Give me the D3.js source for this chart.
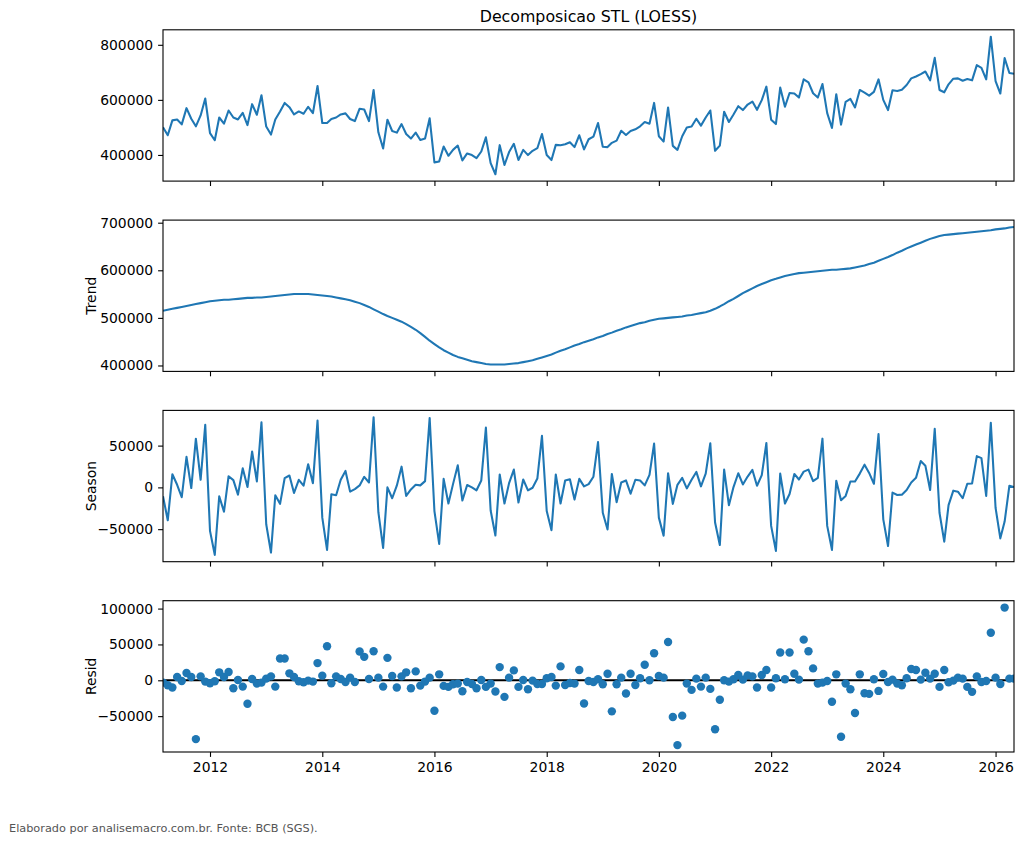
<!DOCTYPE html>
<html>
<head>
<meta charset="utf-8">
<script src="https://cdn.jsdelivr.net/npm/d3@7"></script>
<style>
    body { margin: 0; background: #ffffff; }
    svg { font-family: "DejaVu Sans", sans-serif; }
</style>
</head>
<body>
<svg id="chart" width="1024" height="843"></svg>
<script>
// monthly series, 2011-03 .. 2026-05, one row per calendar year
const observed = [
    500300, 471500, 525500, 529000, 511000, 570000, 531500, 504000, 543500, 605000,
    479000, 453500, 536000, 513500, 561500, 536000, 529000, 553000, 508500, 584500, 546000, 617000,
    503000, 474000, 529000, 558000, 589000, 573500, 547000, 558000, 549500, 575000, 552000, 650500,
    516000, 516000, 530500, 536000, 547000, 551000, 530500, 523000, 568000, 565000, 523000, 636000,
    482300, 423500, 528000, 487000, 481000, 512000, 476000, 459500, 481000, 454500, 459500, 533000,
    373000, 376500, 430500, 397000, 418500, 434000, 380000, 405500, 399500, 388500, 412500, 464000,
    370500, 330000, 435500, 363500, 410500, 440500, 381500, 418500, 399500, 415000, 424500, 476000,
    399500, 381500, 436500, 435500, 439000, 446000, 428500, 471500, 420000, 457000, 466500, 516000,
    429500, 428500, 444000, 452000, 488000, 472500, 487000, 493000, 504000, 519500, 513500, 589000,
    468000, 448500, 572500, 433000, 418500, 468000, 500000, 503000, 531500, 506500, 536000, 561500,
    415000, 434000, 557000, 519500, 547000, 577000, 563000, 583000, 594000, 564000, 599000, 648000,
    528000, 512000, 644500, 575000, 625000, 623000, 608500, 674500, 663500, 624000, 608500, 657500,
    552000, 498000, 620500, 510000, 593000, 603500, 572500, 636000, 626500, 615500, 629000, 674500,
    600000, 563000, 635000, 632500, 637000, 654000, 678000, 685000, 693500, 703000, 671000, 752500,
    636000, 627500, 656500, 677000, 678000, 669500, 675500, 671000, 726000, 716500, 674500, 829500,
    668500, 623000, 751500, 697500, 695000
]

const trend = [
    515000, 517000, 519000, 521000, 523000, 525000, 527000, 529000, 531000, 533000,
    535000, 536000, 537000, 538000, 538000, 539000, 540000, 541000, 542000, 542000, 543000, 543000,
    544000, 545000, 546000, 547000, 548000, 549000, 550000, 550000, 550000, 550000, 549000, 548000,
    547000, 546000, 545000, 543000, 541000, 539000, 537000, 534000, 531000, 527000, 523000, 518000,
    513000, 508000, 504000, 500000, 496000, 492000, 487000, 481000, 475000, 468000, 460000, 452000,
    445000, 438000, 432000, 427000, 422000, 418000, 415000, 412000, 409000, 407000, 405000, 403000,
    402000, 402000, 402000, 402000, 403000, 404000, 405000, 407000, 409000, 411000, 414000, 417000,
    420000, 423000, 427000, 431000, 434000, 438000, 442000, 445000, 449000, 452000, 455000, 459000,
    462000, 466000, 469000, 473000, 476000, 480000, 483000, 486000, 489000, 491000, 494000, 496000,
    498000, 499000, 500000, 501000, 502000, 503000, 505000, 506000, 508000, 510000, 512000, 515000,
    519000, 524000, 529000, 535000, 540000, 546000, 552000, 557000, 562000, 567000, 571000, 575000,
    579000, 582000, 585000, 588000, 590000, 592000, 594000, 595000, 596000, 597000, 598000, 599000,
    600000, 601000, 601000, 602000, 603000, 604000, 606000, 608000, 610000, 613000, 616000, 620000,
    624000, 628000, 632000, 637000, 641000, 646000, 650000, 654000, 658000, 662000, 666000, 669000,
    672000, 674000, 675000, 676000, 677000, 678000, 679000, 680000, 681000, 682000, 683000, 684000,
    686000, 687000, 688000, 690000, 691000
]

const season = [
    -10600, -39400, 15700, 3100, -11800, 36600, -800, 58300, 9100, 74800,
    -52000, -80700, -10600, -29100, 13400, 8700, -8700, 22800, 400, 42900, 7100, 78000,
    -44100, -78000, -9400, -19700, 11000, 14200, -6700, 9100, 2000, 27600, 5100, 79900,
    -36200, -74800, -8300, -9400, 9100, 19700, -5100, -2000, 2400, 12600, 5900, 83900,
    -29700, -72400, 0, -13000, 2000, 24800, -10200, -2400, 3100, 2400, 7500, 83100,
    -28300, -67700, 10200, -19300, 3900, 26400, -15700, 2800, 0, -3500, 8300, 71700,
    -27600, -57500, 15400, -19300, 5100, 21300, -18100, 9400, -3500, -400, 10600, 61800,
    -28300, -51200, 15400, -19300, 8300, 9800, -14600, 10200, 1200, 3900, 12800, 54300,
    -30300, -50400, 16100, -17700, 5900, 8300, -7500, 9100, 8300, 2400, 15000, 52400,
    -36200, -57900, 16900, -19700, 3100, 11400, -1200, 9100, 18500, 1200, 16500, 52800,
    -42100, -68900, 21300, -21300, 400, 16900, 3500, 13000, 20900, 2000, 14600, 53100,
    -46100, -76000, 16500, -19300, -7900, 16100, 9400, 18900, 21300, 7500, 11400, 58300,
    -46100, -74800, 7900, -15400, -10200, 7100, 7100, 16500, 27200, 17300, 4300, 63800,
    -38200, -70100, -6300, -9100, -8700, -3100, 5900, 11400, 31500, 26000, -3100, 70100,
    -30300, -65000, -21300, -3900, -5100, -13000, 4300, 4700, 37400, 35000, -10200, 77200,
    -24400, -61000, -40900, 2000, 400
]

const resid = [
    -3200, -6900, -10100, 4600, -900, 10100, 4600, -82000, 5500, -1800,
    -4100, -1400, 11100, 4600, 11500, -11100, 500, -8800, -32700, 1800, -4600, -3200,
    2300, 5500, -8800, 30400, 30400, 9700, 4600, -1400, -2800, -500, -1800, 24000,
    6500, 47500, -4100, 5500, 1800, -2300, 3700, -2300, 40100, 32700, 1800, 40600,
    3700, -8800, 31300, 6000, -10100, 5500, 11100, -11100, 12400, -7400, -1800, 3700,
    -42400, 8300, -7800, -9200, -5500, -4600, -15200, -2300, -5100, -11100, 500, -9200,
    -4600, -15700, 18400, -23100, 3700, 13800, -9200, 500, -12400, -500, -5100, -5100,
    2800, 4600, -7400, 19400, -6500, -3700, -4600, 14300, -32300, -900, -2300, 1400,
    -5500, 9200, -43300, -5500, 3700, -18400, 9200, -6500, 2800, 21700, 0, 37800,
    6000, 3700, 53500, -51200, -90400, -49300, -4600, -13400, 2300, -8800, 3700, -12000,
    -68200, -27200, 0, -1800, 1400, 7400, 900, 6900, 5500, -10100, 7400, 14300,
    -10100, 2800, 38700, 1400, 38700, 9200, 900, 56700, 40600, 16600, -4600, -3200,
    -900, -30000, 8300, -78800, -4600, -12400, -45600, 8300, -18000, -18900, 1400, -14800,
    8800, -2300, 900, -4600, -6900, 2800, 15700, 14300, 900, 10600, 2300, 9200,
    -9200, 14300, -2800, -500, 3700, 2300, -9200, -16100, 5500, -2300, -900, 66400,
    3700, -5100, 101400, 2300, 2300
]

const yearTicks = [2012, 2014, 2016, 2018, 2020, 2022, 2024, 2026]
const observedTicks = [400000, 600000, 800000]
const trendTicks = [400000, 500000, 600000, 700000]
const seasonTicks = [-50000, 0, 50000]
const residTicks = [-50000, 0, 50000, 100000]

const months = d3.utcMonth.range(new Date(Date.UTC(2011, 2, 1)), new Date(Date.UTC(2026, 5, 1)))

const svg = d3.select("#chart")
const left = 163
const right = 1014
const panelHeight = 151.3
const blue = "#1f77b4"
const fontSize = "13.9px"

const x = d3.scaleUtc()
    .domain([months[0], months[months.length - 1]])
    .range([left, right])

const panels = [
    { values: observed, top: 29.8, ticks: observedTicks, label: "" },
    { values: trend, top: 220.1, ticks: trendTicks, label: "Trend" },
    { values: season, top: 410.4, ticks: seasonTicks, label: "Season" },
    { values: resid, top: 600.7, ticks: residTicks, label: "Resid", dots: true }
]

svg.append("rect")
    .attr("width", 1024)
    .attr("height", 843)
    .attr("fill", "#ffffff")

panels.forEach((p, k) => {
    const ext = d3.extent(p.values)
    const pad = (ext[1] - ext[0]) * 0.05
    const y = d3.scaleLinear()
        .domain([ext[0] - pad, ext[1] + pad])
        .range([p.top + panelHeight, p.top])

    const g = svg.append("g")

    g.append("clipPath")
        .attr("id", "clip" + k)
        .append("rect")
        .attr("x", left)
        .attr("y", p.top)
        .attr("width", right - left)
        .attr("height", panelHeight)

    const plot = g.append("g").attr("clip-path", `url(#clip${k})`)

    if (p.dots) {
        plot.append("line")
            .attr("x1", left)
            .attr("x2", right)
            .attr("y1", y(0))
            .attr("y2", y(0))
            .attr("stroke", "#000000")
            .attr("stroke-width", 2)

        plot.selectAll("circle")
            .data(p.values)
            .join("circle")
            .attr("cx", (d, i) => x(months[i]))
            .attr("cy", d => y(d))
            .attr("r", 4.2)
            .attr("fill", blue)
    } else {
        plot.append("path")
            .datum(p.values)
            .attr("fill", "none")
            .attr("stroke", blue)
            .attr("stroke-width", 2.08)
            .attr("stroke-linejoin", "round")
            .attr("d", d3.line()
                .x((d, i) => x(months[i]))
                .y(d => y(d)))
    }

    const yAxis = g.append("g")
        .attr("transform", `translate(${left},0)`)
        .call(d3.axisLeft(y)
            .tickValues(p.ticks)
            .tickSize(4.9)
            .tickPadding(4.9)
            .tickFormat(d3.format("d")))

    const xAxis = g.append("g")
        .attr("transform", `translate(0,${p.top + panelHeight})`)
        .call(d3.axisBottom(x)
            .tickValues(yearTicks.map(yr => new Date(Date.UTC(yr, 0, 1))))
            .tickSize(4.9)
            .tickPadding(4.9)
            .tickFormat(k === 3 ? d3.utcFormat("%Y") : () => ""))

    ;[yAxis, xAxis].forEach(a => {
        a.attr("font-family", "DejaVu Sans, sans-serif").attr("font-size", fontSize)
        a.select(".domain").remove()
        a.selectAll(".tick line").attr("stroke", "#000000").attr("stroke-width", 1.1)
        a.selectAll(".tick text").attr("fill", "#000000")
    })

    g.append("rect")
        .attr("x", left)
        .attr("y", p.top)
        .attr("width", right - left)
        .attr("height", panelHeight)
        .attr("fill", "none")
        .attr("stroke", "#000000")
        .attr("stroke-width", 1.1)

    if (p.label) {
        g.append("text")
            .attr("transform", `translate(96,${p.top + panelHeight / 2}) rotate(-90)`)
            .attr("text-anchor", "middle")
            .attr("font-size", fontSize)
            .attr("fill", "#000000")
            .text(p.label)
    }
})

svg.append("text")
    .attr("x", (left + right) / 2)
    .attr("y", 21.7)
    .attr("text-anchor", "middle")
    .attr("font-size", "15.8px")
    .attr("fill", "#000000")
    .text("Decomposicao STL (LOESS)")

svg.append("text")
    .attr("x", 9)
    .attr("y", 831.5)
    .attr("font-size", "11.3px")
    .attr("fill", "#555555")
    .text("Elaborado por analisemacro.com.br. Fonte: BCB (SGS).")
</script>
</body>
</html>
